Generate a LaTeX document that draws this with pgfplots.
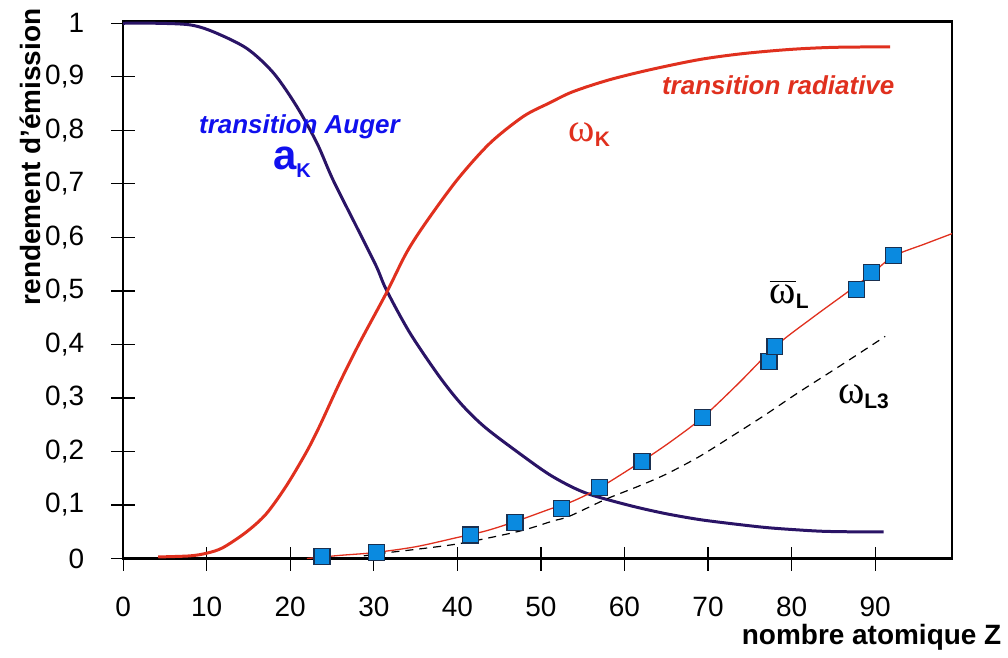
\documentclass[border=0pt]{standalone}
\usepackage{pgfplots}
\pgfplotsset{compat=1.18}
\usepackage{fontspec}
\setmainfont{Liberation Sans}
\newfontfamily\grk{Liberation Serif}

\definecolor{augerline}{HTML}{2A1466}
\definecolor{radred}{HTML}{E0301E}
\definecolor{txtblue}{HTML}{1010EE}
\definecolor{sqfill}{HTML}{0A8AE0}
\definecolor{sqedge}{HTML}{1A3050}

\pgfplotstableread{
Z v
0 1.0
4 1.0
8 0.997
10.8 0.984
14.8 0.953
18 0.907
20.8 0.844
23.2 0.776
25.1 0.708
27.9 0.621
30.3 0.546
31.5 0.502
34.3 0.422
37.8 0.341
40.5 0.288
43.4 0.244
47.9 0.191
51 0.157
53.8 0.133
56.2 0.118
60.9 0.098
64.9 0.084
68.9 0.073
72.9 0.065
76.9 0.058
80.3 0.054
83.6 0.051
87 0.050
91 0.050
}\augerK

\pgfplotstableread{
Z v
4.2 0.003
8 0.005
10 0.010
11.9 0.020
14.7 0.049
17.1 0.083
19.5 0.135
21.9 0.198
23.5 0.247
25.9 0.328
28.3 0.403
31.5 0.496
33.9 0.571
36.2 0.627
40 0.708
43.9 0.776
47.9 0.826
51 0.851
53.8 0.872
58.1 0.894
63 0.913
68.9 0.932
74 0.943
79.7 0.951
85 0.955
91.8 0.956
}\omegaK

\pgfplotstableread{
Z v
22 0.0
26 0.006
30 0.011
35 0.022
39.9 0.039
43.5 0.052
47.1 0.070
51 0.092
53.8 0.107
57 0.132
62.1 0.182
65.5 0.218
69.3 0.263
73.5 0.325
78.1 0.397
82.5 0.450
86.8 0.499
89.6 0.532
92.2 0.565
96 0.588
99.2 0.607
}\omegaL

\pgfplotstableread{
Z v
23.8 0.004
30.3 0.012
41.6 0.044
46.9 0.068
52.5 0.094
57 0.133
62.1 0.182
69.3 0.263
77.3 0.368
78 0.396
87.8 0.502
89.6 0.534
92.2 0.566
}\mesures

\pgfplotstableread{
Z v
28.8 0.005
31.1 0.010
35.5 0.018
39.9 0.027
43.9 0.039
47.9 0.053
51.4 0.070
53.4 0.079
57.8 0.111
61.5 0.134
64.9 0.157
68.9 0.190
72.9 0.229
76.8 0.268
80.8 0.310
86 0.362
91.2 0.415
}\omegaLthree

\begin{document}
\begin{tikzpicture}
\begin{axis}[
  name=ax,
  scale only axis,
  width=415pt, height=268.8pt,
  xmin=0, xmax=99.2,
  ymin=0, ymax=1.003,
  xtick={0,10,...,90},
  ytick={0,0.1,...,1},
  tick pos=left,
  tick align=center,
  major tick length=12pt,
  every tick/.style={black, line width=0.6pt},
  axis line style={line width=1.2pt},
  /pgf/number format/assume math mode=true,
  /pgf/number format/use comma,
  ticklabel style={font=\fontsize{14}{16}\selectfont},
  xticklabel style={yshift=-9.5pt},
  yticklabel style={xshift=-10pt},
  xlabel={nombre atomique Z},
  ylabel={rendement d'émission},
  xlabel style={font=\fontsize{14}{16}\selectfont\bfseries, at={(axis description cs:1.068,-0.147)}, anchor=east},
  ylabel style={font=\fontsize{14}{16}\selectfont\bfseries, at={(axis description cs:-0.112,0.748)}, anchor=center},
]
\addplot[augerline, line width=1.5pt, smooth] table[x=Z, y=v] {\augerK};
\addplot[radred, line width=1.5pt, smooth] table[x=Z, y=v] {\omegaK};
\addplot[radred, line width=0.65pt, smooth] table[x=Z, y=v] {\omegaL};
\addplot[black, line width=0.6pt, dash pattern=on 4pt off 3pt, smooth] table[x=Z, y=v] {\omegaLthree};
\addplot[only marks, mark=square*, mark size=4pt, mark options={fill=sqfill, draw=sqedge, line width=0.6pt}] table[x=Z, y=v] {\mesures};

\node[txtblue, font=\fontsize{13}{15}\selectfont\bfseries\itshape] at (axis cs:21.1,0.807) {transition Auger};
\node[txtblue, font=\fontsize{21}{24}\selectfont\bfseries] at (axis cs:20.2,0.74) {a\raisebox{-0.35ex}{\fontsize{10}{12}\selectfont K}};
\node[radred, font=\fontsize{13}{15}\selectfont\bfseries\itshape] at (axis cs:78.4,0.885) {transition radiative};
\node[radred] at (axis cs:55.8,0.792) {{\grk\fontsize{20}{22}\selectfont ω}\raisebox{-0.5ex}{\fontsize{10.5}{12}\selectfont\bfseries K}};
\node[black] at (axis cs:79.7,0.493) {{\grk\fontsize{20}{22}\selectfont $\overline{\hbox{ω}}$}\raisebox{-0.5ex}{\fontsize{10.5}{12}\selectfont\bfseries L}};
\node[black] at (axis cs:88.6,0.302) {{\grk\fontsize{20}{22}\selectfont ω}\raisebox{-0.5ex}{\fontsize{10.5}{12}\selectfont\bfseries L3}};
\end{axis}
\path ([xshift=-61.65pt,yshift=-46.35pt]ax.south west) rectangle ([xshift=27.5pt,yshift=10.85pt]ax.north east);
\end{tikzpicture}
\end{document}
